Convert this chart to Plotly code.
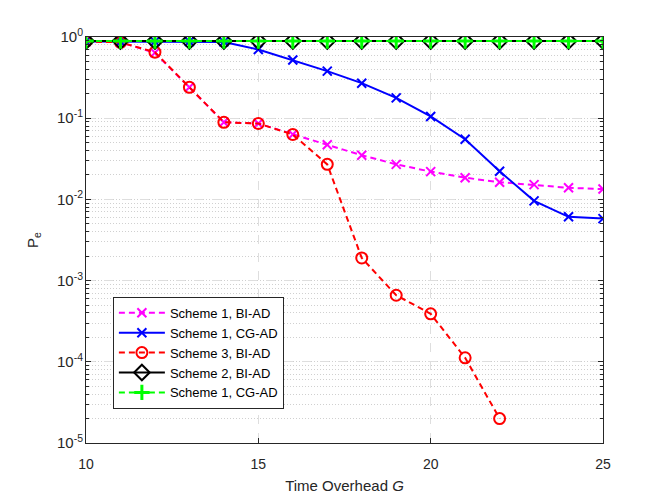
import numpy as np
import plotly.graph_objects as go

# -- data
g = [10, 11, 12, 13, 14, 15, 16, 17, 18, 19, 20, 21, 22, 23, 24, 25]

pe_s1_bi = [0.88, 0.86, 0.64, 0.24, 0.089, 0.086, 0.063, 0.047, 0.035, 0.027,
            0.022, 0.0185, 0.0163, 0.0152, 0.0139, 0.0134]
pe_s1_cg = [0.88, 0.88, 0.88, 0.88, 0.87, 0.70, 0.52, 0.38, 0.27, 0.178,
            0.105, 0.055, 0.0222, 0.0096, 0.0061, 0.0058]
pe_s3_bi = [0.88, 0.86, 0.65, 0.24, 0.089, 0.086, 0.063, 0.027, 0.0019, 0.00066,
            0.00039, 0.000112, 0.00002]
pe_s2_bi = [0.89] * 16
pe_s1_cg2 = [0.89] * 16

names = ['Scheme 1, BI-AD', 'Scheme 1, CG-AD', 'Scheme 3, BI-AD', 'Scheme 2, BI-AD', 'Scheme 1, CG-AD']

y_tickvals = [1e-5, 1e-4, 1e-3, 1e-2, 1e-1, 1]
y_ticktext = ['10<sup>-5</sup>', '10<sup>-4</sup>', '10<sup>-3</sup>', '10<sup>-2</sup>',
              '10<sup>-1</sup>', '10<sup>0</sup>']

fnt = 'Liberation Sans, Arial, sans-serif'
axis_col = '#262626'

fig = go.Figure()

# magenta dashed with x markers
fig.add_trace(go.Scatter(x=g, y=pe_s1_bi, name=names[0], mode='lines+markers',
                         line=dict(color='#FF00FF', width=2, dash='6px,4px'),
                         marker=dict(symbol='x-thin', size=9, line=dict(color='#FF00FF', width=2))))

# blue solid with x markers
fig.add_trace(go.Scatter(x=g, y=pe_s1_cg, name=names[1], mode='lines+markers',
                         line=dict(color='#0000FF', width=2),
                         marker=dict(symbol='x-thin', size=9, line=dict(color='#0000FF', width=2))))

# red dashed with open circles
fig.add_trace(go.Scatter(x=g[:len(pe_s3_bi)], y=pe_s3_bi, name=names[2], mode='lines+markers',
                         line=dict(color='#FF0000', width=2, dash='6px,4px'),
                         marker=dict(symbol='circle-open', size=11, color='#FF0000',
                                     line=dict(color='#FF0000', width=2))))

# black solid with diamonds
fig.add_trace(go.Scatter(x=g, y=pe_s2_bi, name=names[3], mode='lines+markers',
                         line=dict(color='#000000', width=2),
                         marker=dict(symbol='diamond-open', size=12, color='#000000',
                                     line=dict(color='#000000', width=2))))

# green dashed with plus markers
fig.add_trace(go.Scatter(x=g, y=pe_s1_cg2, name=names[4], mode='lines+markers',
                         line=dict(color='#00FF00', width=2, dash='6px,4px'),
                         marker=dict(symbol='cross-thin', size=11, line=dict(color='#00FF00', width=3))))

fig.update_layout(
    width=664, height=498, paper_bgcolor='white', plot_bgcolor='white',
    margin=go.layout.Margin(l=78, r=69, t=29, b=63, pad=0),
    font=dict(family=fnt, color=axis_col, size=14),
    showlegend=True,
    legend=go.layout.Legend(x=0.052, y=0.36, xanchor='left', yanchor='top',
                            bgcolor='white', bordercolor=axis_col, borderwidth=1,
                            font=dict(size=13, color='#000000'), tracegroupgap=0,
                            itemwidth=46),
)

fig.update_xaxes(range=[10, 25], tickvals=[10, 15, 20, 25], ticks='inside', ticklen=5,
                 tickcolor=axis_col, showline=True, linecolor=axis_col, linewidth=1, mirror='allticks',
                 showgrid=True, gridcolor='#dedede', griddash='dash', gridwidth=1, zeroline=False,
                 tickfont=dict(size=14), ticklabelstandoff=8,
                 title=dict(text='Time Overhead <i>G</i>', font=dict(size=15), standoff=9))

fig.update_yaxes(type='log', range=[-5, 0], tickvals=y_tickvals, ticktext=y_ticktext,
                 ticks='inside', ticklen=5, tickcolor=axis_col, showline=True, linecolor=axis_col,
                 linewidth=1, mirror='allticks', showgrid=True, gridcolor='#dedede', griddash='dash',
                 zeroline=False, tickfont=dict(size=15), ticklabelstandoff=-1,
                 minor=dict(ticks='inside', ticklen=3, tickcolor=axis_col, showgrid=True,
                            gridcolor='#d0d0d0', griddash='1px,2px', dtick='D1'),
                 title=dict(text='P<sub>e</sub>', font=dict(size=15), standoff=14))

fig.write_html("out.html")
